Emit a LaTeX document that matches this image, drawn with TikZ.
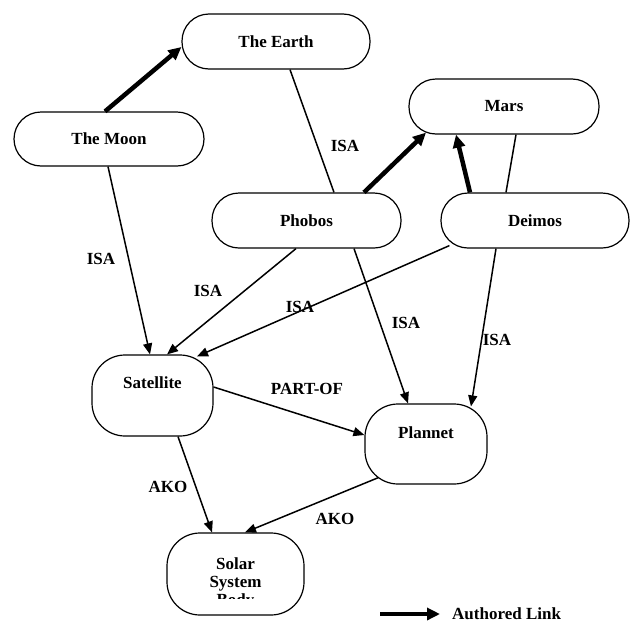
\documentclass[tikz,border=0pt]{standalone}
\usepackage{fontspec}
\setmainfont{Liberation Serif}
\usetikzlibrary{arrows.meta}
\begin{document}
\begin{tikzpicture}[x=1pt,y=-1pt,
  concept/.style={draw, line width=1.2pt, rounded corners=27pt, minimum height=55pt,
    inner sep=0pt, font=\fontsize{17}{18}\selectfont\bfseries},
  classbox/.style={draw, line width=1.2pt, rounded corners=33pt, inner sep=0pt},
  lbl/.style={font=\fontsize{17}{18}\selectfont\bfseries, inner sep=0pt},
  link/.style={line width=1.5pt, -{Triangle[length=11pt,width=9pt]}},
  plainlink/.style={line width=1.5pt},
  authored/.style={line width=4.5pt, -{Triangle[length=13pt,width=12pt]}},
]
\useasboundingbox (0,0) rectangle (631,624);

% instance nodes
\node[concept, minimum width=188pt] (earth)  at (276,41.5)  {The Earth};
\node[concept, minimum width=190pt, minimum height=54pt] (moon) at (109,139) {The Moon};
\node[concept, minimum width=190pt] (mars)   at (504,106.5) {Mars};
\node[concept, minimum width=189pt] (phobos) at (306.5,220.5) {Phobos};
\node[concept, minimum width=188pt] (deimos) at (535,220.5) {Deimos};

% class nodes
\node[classbox, minimum width=121pt, minimum height=81pt] (sat)   at (152.5,395.5) {};
\node[lbl] (sattext) at (152.5,383) {Satellite};
\node[classbox, minimum width=122pt, minimum height=80pt] (plan)  at (426,444) {};
\node[lbl] (plantext) at (426,433) {Plannet};
\node[classbox, minimum width=137pt, minimum height=82pt] (solar) at (235.5,574) {};
\begin{scope}
  \clip (167,533) rectangle (304,598.5);
  \node[lbl, align=center] (solartext) at (235.5,583) {Solar\\System\\Body};
\end{scope}

% authored links
\draw[authored] ([xshift=-4pt]moon.north) -- ([yshift=-5.5pt]earth.west);
\draw[authored] ([xshift=57.5pt]phobos.north) -- ([xshift=-78pt,yshift=2pt]mars.south);
\draw[authored] ([xshift=-65pt]deimos.north) -- ([xshift=-48pt]mars.south);

% plain relations
\draw[plainlink] ([xshift=14pt]earth.south) -- ([xshift=27.5pt]phobos.north);
\draw[plainlink] ([xshift=-29pt]deimos.north) -- ([xshift=12pt]mars.south);

% ISA / PART-OF / AKO links
\draw[link] ([xshift=-1pt]moon.south) -- ([xshift=-2.5pt]sat.north);
\draw[link] ([xshift=-10.5pt]phobos.south) -- ([xshift=14.5pt]sat.north);
\draw[link] ([xshift=9pt,yshift=3pt]deimos.south west) -- ([xshift=44.5pt,yshift=-2pt]sat.north);
\draw[link] ([xshift=47.5pt]phobos.south) -- ([xshift=-18pt]plan.north);
\draw[link] ([xshift=-39pt]deimos.south) -- ([xshift=45pt,yshift=-3pt]plan.north);
\draw[link] ([yshift=8.5pt]sat.east) -- ([yshift=9pt]plan.west);
\draw[link] ([xshift=25.5pt]sat.south) -- ([xshift=-23.5pt]solar.north);
\draw[link] ([xshift=14pt,yshift=7pt]plan.south west) -- ([xshift=9.5pt]solar.north);

% relation labels
\node[lbl] (isaEarth)   at (345,146) {ISA};
\node[lbl] (isaMoon)    at (101,259) {ISA};
\node[lbl] (isaPhobosS) at (208,291) {ISA};
\node[lbl] (isaDeimosS) at (300,307) {ISA};
\node[lbl] (isaPhobosP) at (406,323) {ISA};
\node[lbl] (isaDeimosP) at (497,340) {ISA};
\node[lbl] (partof)     at (307,389) {PART-OF};
\node[lbl] (akoSat)     at (168,487) {AKO};
\node[lbl] (akoPlan)    at (335,519) {AKO};

% legend
\coordinate (legA) at (380,614);
\coordinate (legB) at (440,614);
\draw[authored] (legA) -- (legB);
\node[lbl, anchor=west] (legtext) at (452,614) {Authored Link};
\end{tikzpicture}
\end{document}
